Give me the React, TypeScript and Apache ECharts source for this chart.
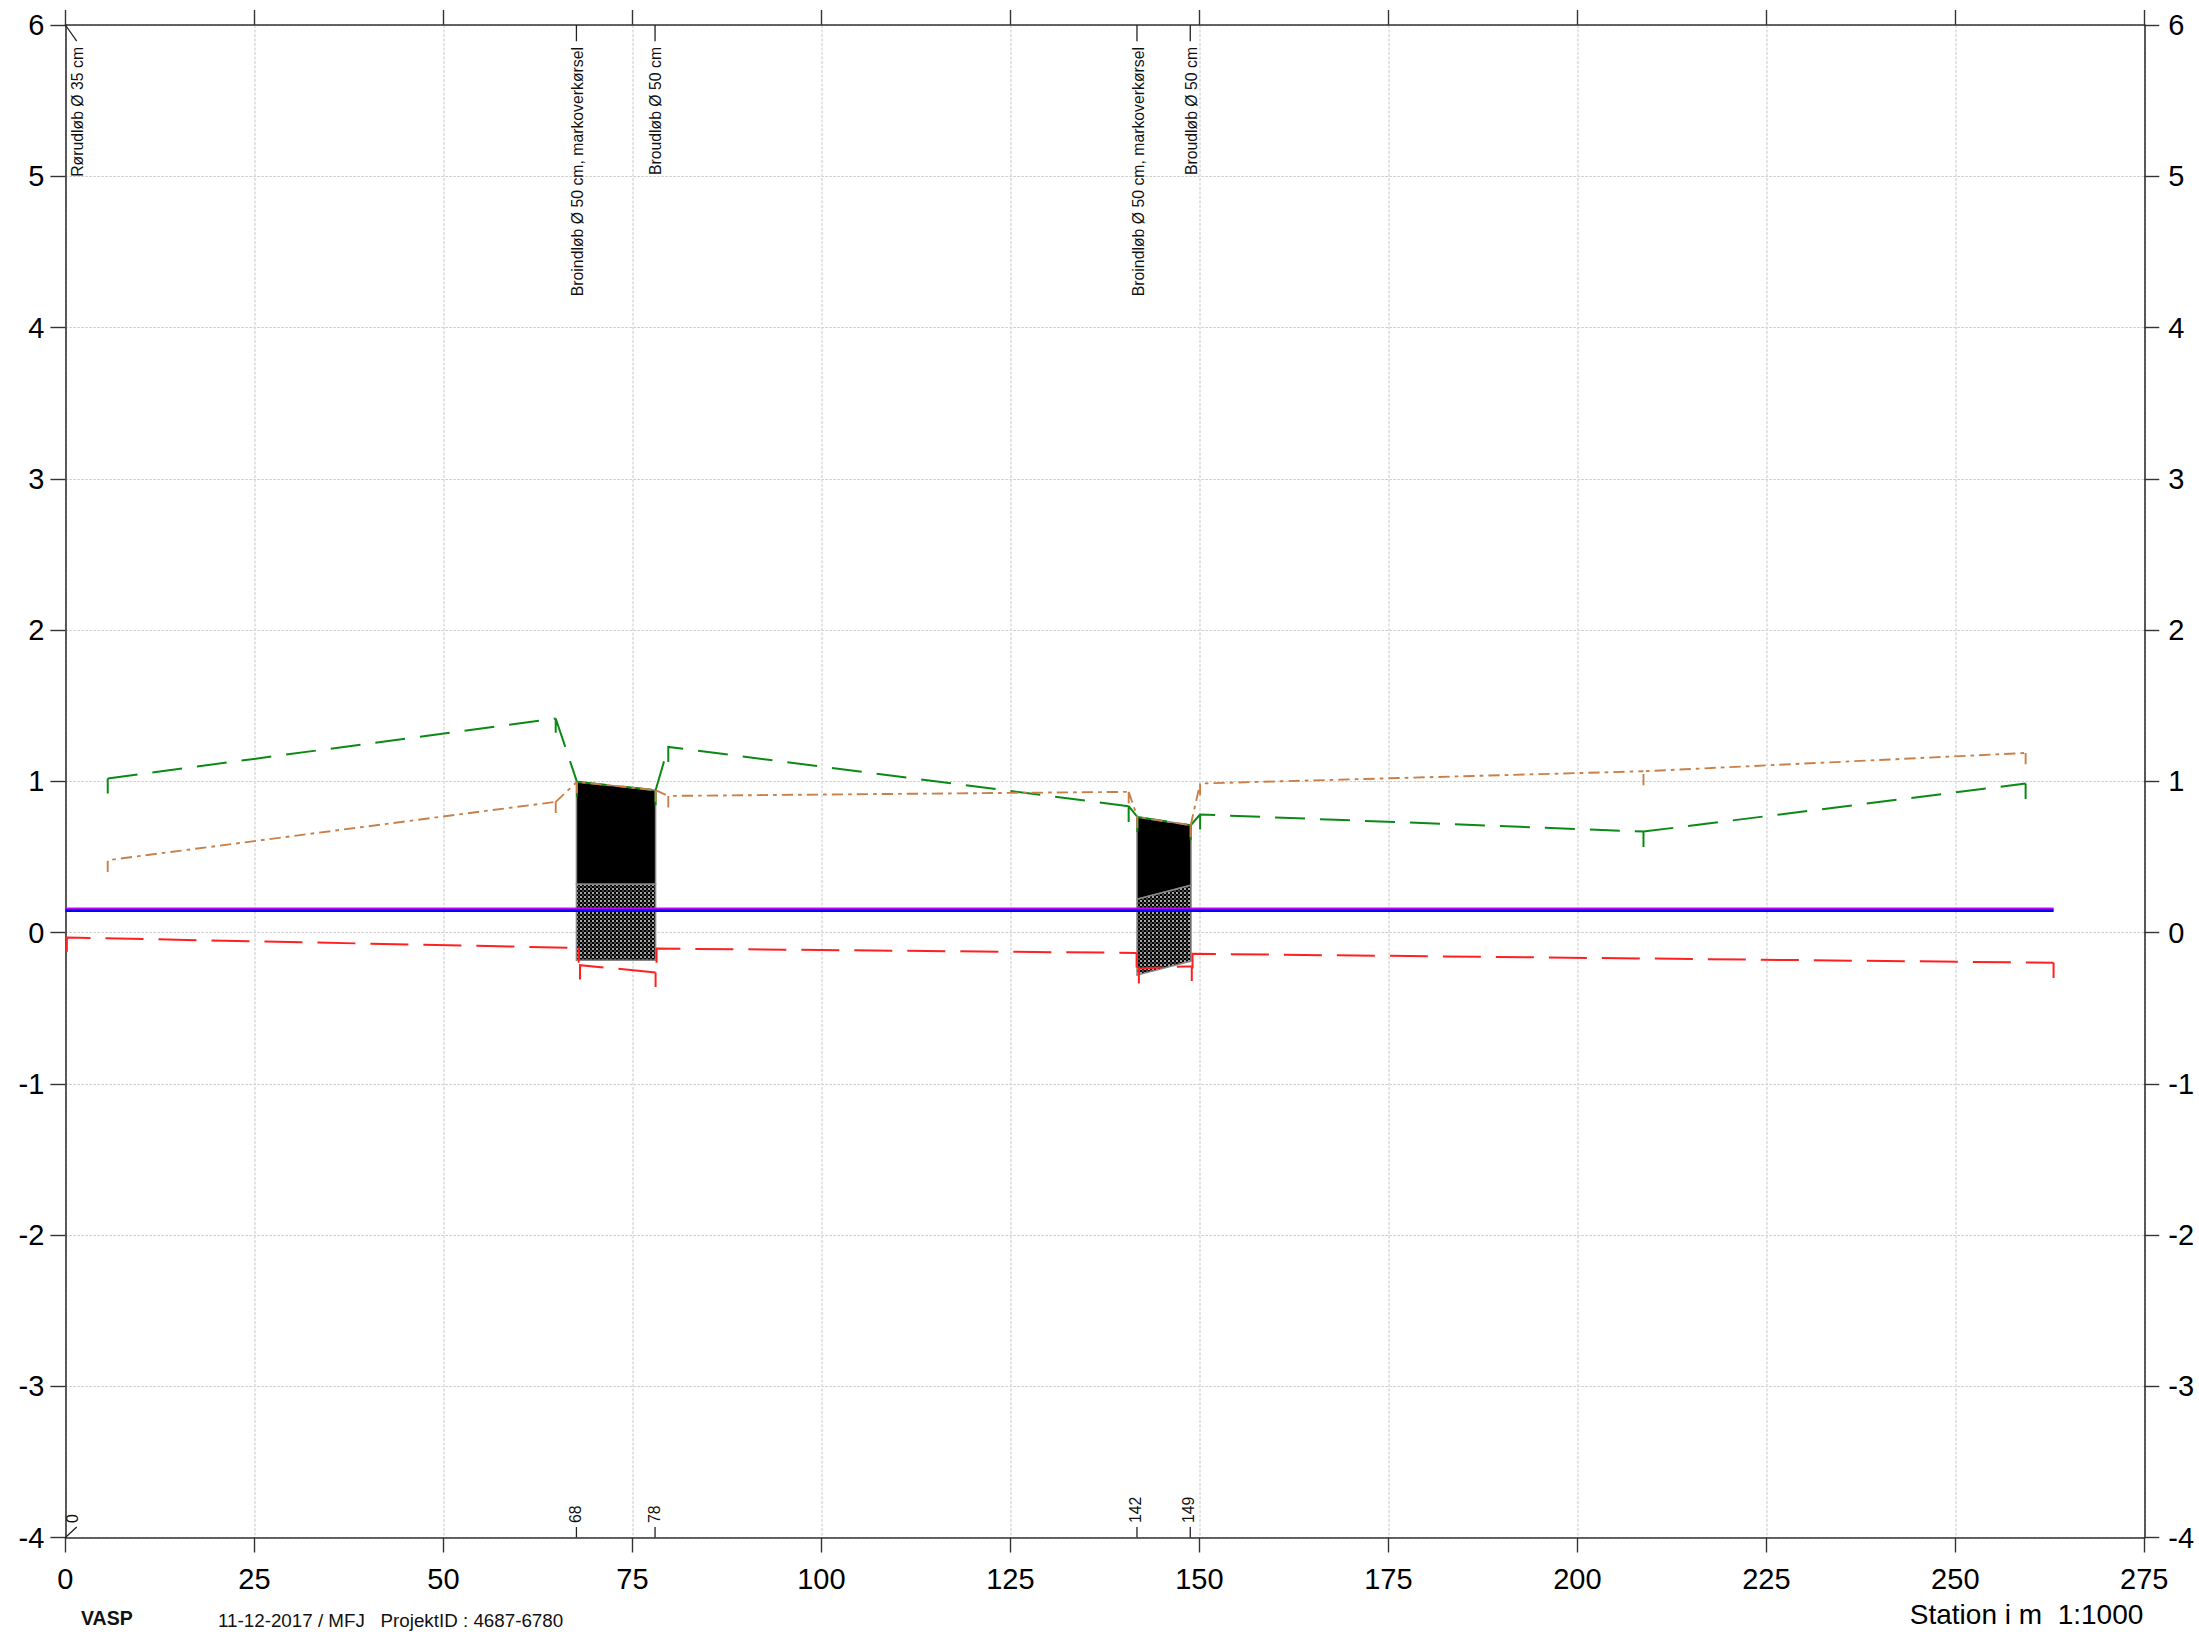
import React, { useEffect, useRef } from "react";
import * as echarts from "echarts";

const FONT = '"Liberation Sans"';
const GAP = [null, null];

const xTicksMin = 0;
const xTicksMax = 275;
const xTickStep = 25;
const yTicksMin = -4;
const yTicksMax = 6;
const yTickStep = 1;

const terrain = [
  [5.6, 0.919], [5.6, 1.018], GAP,
  [5.6, 1.018], [64.86, 1.415], GAP,
  [64.86, 1.32], [64.86, 1.415], GAP,
  [64.86, 1.415], [67.67, 0.996], GAP,
  [67.67, 0.897], [67.67, 0.996], GAP,
  [67.67, 0.996], [78.07, 0.941], GAP,
  [78.07, 0.842], [78.07, 0.941], GAP,
  [78.07, 0.941], [79.75, 1.227], GAP,
  [79.75, 1.128], [79.75, 1.227], [140.65, 0.835], GAP,
  [140.65, 0.731], [140.65, 0.835], GAP,
  [140.65, 0.835], [141.8, 0.764], GAP,
  [141.8, 0.665], [141.8, 0.764], GAP,
  [141.8, 0.764], [148.85, 0.709], GAP,
  [148.85, 0.61], [148.85, 0.709], GAP,
  [148.85, 0.709], [150.1, 0.78], GAP,
  [150.1, 0.681], [150.1, 0.78], [208.75, 0.667], GAP,
  [208.75, 0.565], [208.75, 0.667], GAP,
  [208.75, 0.667], [259.3, 0.985], GAP,
  [259.3, 0.883], [259.3, 0.985],
];

const bank = [
  [5.6, 0.4], [5.6, 0.478], [64.86, 0.864], GAP,
  [64.86, 0.79], [64.86, 0.864], GAP,
  [64.86, 0.864], [67.67, 0.996], GAP,
  [67.67, 0.92], [67.67, 0.996], [78.07, 0.941], GAP,
  [78.07, 0.864], [78.07, 0.941], GAP,
  [78.07, 0.941], [79.75, 0.903], GAP,
  [79.75, 0.827], [79.75, 0.903], [140.65, 0.93], GAP,
  [140.65, 0.853], [140.65, 0.93], GAP,
  [140.65, 0.93], [141.8, 0.764], GAP,
  [141.8, 0.69], [141.8, 0.764], [148.85, 0.709], GAP,
  [148.85, 0.632], [148.85, 0.709], GAP,
  [148.85, 0.709], [150.1, 0.985], GAP,
  [150.1, 0.908], [150.1, 0.985], [208.75, 1.066], GAP,
  [208.75, 0.974], [208.75, 1.066], [259.3, 1.187], GAP,
  [259.3, 1.113], [259.3, 1.187],
];

const bed = [
  [0.19, -0.128], [0.19, -0.033], [67.9, -0.102], GAP,
  [67.9, -0.2], [67.9, -0.102], GAP,
  [68.07, -0.311], [68.07, -0.216], [78.07, -0.264], GAP,
  [78.07, -0.36], [78.07, -0.264], GAP,
  [78.2, -0.2], [78.2, -0.106], [141.7, -0.135], GAP,
  [141.7, -0.232], [141.7, -0.135], GAP,
  [142, -0.337], [142, -0.238], [149, -0.223], GAP,
  [149, -0.32], [149, -0.223], GAP,
  [149.1, -0.238], [149.1, -0.141], [263, -0.2], GAP,
  [263, -0.3], [263, -0.2],
];

const waterLine = [[0, 0.145], [263, 0.145]];
const waterEdge = [[0, 0.156], [263, 0.156]];

const culvertBlack = [
  [[67.6, 0.996], [78.07, 0.941], [78.07, 0.319], [67.6, 0.319]],
  [[141.75, 0.764], [148.9, 0.709], [148.9, 0.313], [141.75, 0.22]],
];
const culvertHatch = [
  [[67.6, 0.319], [78.07, 0.319], [78.07, -0.183], [67.6, -0.183]],
  [[141.75, 0.22], [148.9, 0.313], [148.9, -0.189], [141.75, -0.282]],
];

const topLeaders = [
  [0, 6], [1.5, 5.893], GAP,
  [67.6, 6], [67.6, 5.893], GAP,
  [78, 6], [78, 5.893], GAP,
  [141.75, 6], [141.75, 5.893], GAP,
  [148.8, 6], [148.8, 5.893],
];
const bottomLeaders = [
  [0, -4], [1.5, -3.93], GAP,
  [67.6, -4], [67.6, -3.93], GAP,
  [78, -4], [78, -3.93], GAP,
  [141.75, -4], [141.75, -3.93], GAP,
  [148.8, -4], [148.8, -3.93],
];

const topNotes = ["Rørudløb Ø 35 cm", "Broindløb Ø 50 cm, markoverkørsel", "Broudløb Ø 50 cm", "Broindløb Ø 50 cm, markoverkørsel", "Broudløb Ø 50 cm"];
const topNoteStations = [1.6, 67.8, 78, 141.9, 149];
const topNoteLevel = 5.855;

const bottomNotes = ["0", "68", "78", "142", "149"];
const bottomNoteStations = [0.97, 67.5, 77.9, 141.6, 148.6];
const bottomNoteLevel = -3.904;

function makeHatch() {
  const c = document.createElement("canvas");
  c.width = 4;
  c.height = 4;
  const g = c.getContext("2d")!;
  g.fillStyle = "#000000";
  g.fillRect(0, 0, 4, 4);
  g.fillStyle = "#a8a8a8";
  g.fillRect(0, 0, 2, 2);
  g.fillStyle = "#484848";
  g.fillRect(2, 2, 2, 2);
  return c;
}

function polygonSeries(polys: number[][][], style: any, z: number) {
  return {
    type: "custom",
    coordinateSystem: "cartesian2d",
    xAxisIndex: 0,
    yAxisIndex: 0,
    silent: true,
    z,
    data: polys.map((_, i) => [i]),
    renderItem: (params: any, api: any) => ({
      type: "polygon",
      shape: { points: polys[params.dataIndex].map((p) => api.coord(p)) },
      style,
    }),
  };
}

function noteSeries(labels: string[], stations: number[], level: number, align: string) {
  return {
    type: "custom",
    coordinateSystem: "cartesian2d",
    xAxisIndex: 0,
    yAxisIndex: 0,
    silent: true,
    z: 6,
    clip: false,
    data: labels.map((_, i) => [stations[i], level]),
    renderItem: (params: any, api: any) => {
      const p = api.coord([stations[params.dataIndex], level]);
      return {
        type: "text",
        x: p[0],
        y: p[1],
        rotation: Math.PI / 2,
        style: {
          text: labels[params.dataIndex],
          font: `15.8px ${FONT}`,
          fill: "#111",
          align,
          verticalAlign: "middle",
        },
      };
    },
  };
}

function lineSeries(data: any[], color: string, width: number, type: any, z: number) {
  return {
    type: "line",
    xAxisIndex: 0,
    yAxisIndex: 0,
    data,
    showSymbol: false,
    symbol: "none",
    connectNulls: false,
    silent: true,
    z,
    lineStyle: { color, width, type, cap: "butt", join: "miter" },
  };
}

export default function App() {
  const ref = useRef<HTMLDivElement>(null);
  useEffect(() => {
    const chart = echarts.init(ref.current!, undefined, { renderer: "svg" });
    const gridV = { show: true, lineStyle: { color: "#dcdcdc", width: 1.5, type: [3, 1.5] as any } };
    const gridH = { show: true, lineStyle: { color: "#cccccc", width: 1, type: [2.5, 1.5] as any } };
    const axisLine = { show: true, onZero: false, lineStyle: { color: "#333", width: 1.6 } };
    const axisTick = { show: true, length: 15, lineStyle: { color: "#333", width: 1.4 } };
    const label = { color: "#000", fontFamily: FONT, fontSize: 29 };
    const hatch = { image: makeHatch(), repeat: "repeat", imageWidth: 4, imageHeight: 4 };

    chart.setOption({
      animation: false,
      backgroundColor: "#fff",
      grid: { left: 65.4, right: 54.7, top: 25, height: 1512.5, containLabel: false },
      xAxis: [
        {
          type: "value", position: "bottom", min: xTicksMin, max: xTicksMax, interval: xTickStep,
          axisLine, axisTick, splitLine: gridV,
          axisLabel: { ...label, margin: 27, showMinLabel: true, showMaxLabel: true },
          name: "Station i m  1:1000",
          nameLocation: "end",
          nameGap: -1,
          nameTextStyle: { color: "#000", fontFamily: FONT, fontSize: 28, align: "right", verticalAlign: "top", padding: [63, 0, 0, 0] },
        },
        {
          type: "value", position: "top", min: xTicksMin, max: xTicksMax, interval: xTickStep,
          axisLine, axisTick, splitLine: { show: false }, axisLabel: { show: false },
        },
      ],
      yAxis: [
        {
          type: "value", position: "left", min: yTicksMin, max: yTicksMax, interval: yTickStep,
          axisLine, axisTick, splitLine: gridH,
          axisLabel: { ...label, margin: 21 },
        },
        {
          type: "value", position: "right", min: yTicksMin, max: yTicksMax, interval: yTickStep,
          axisLine, axisTick, splitLine: { show: false },
          axisLabel: { ...label, margin: 24 },
        },
      ],
      graphic: [
        { type: "text", x: 81, y: 1618, style: { text: "VASP", font: `bold 19.5px ${FONT}`, fill: "#111", verticalAlign: "middle" } },
        { type: "text", x: 218, y: 1620, style: { text: "11-12-2017 / MFJ   ProjektID : 4687-6780", font: `18.8px ${FONT}`, fill: "#111", verticalAlign: "middle" } },
      ],
      series: [
        polygonSeries(culvertBlack, { fill: "#000", stroke: "#888", lineWidth: 1.5 }, 3),
        polygonSeries(culvertHatch, { fill: hatch, stroke: "#888", lineWidth: 1.5 }, 3),
        lineSeries(topLeaders, "#222", 1.3, "solid", 4),
        lineSeries(bottomLeaders, "#222", 1.3, "solid", 4),
        lineSeries(waterEdge, "#d000ff", 3, "solid", 5),
        lineSeries(waterLine, "#0000ff", 3, "solid", 5),
        lineSeries(terrain, "#0a8a14", 2, [30, 15], 6),
        lineSeries(bank, "#c8804a", 1.9, [11.3, 5, 3.7, 5], 7),
        lineSeries(bed, "#ff2020", 2, [38, 15], 6),
        noteSeries(topNotes, topNoteStations, topNoteLevel, "right"),
        noteSeries(bottomNotes, bottomNoteStations, bottomNoteLevel, "left"),
      ],
    });
    return () => chart.dispose();
  }, []);
  return <div ref={ref} style={{ position: "fixed", left: 0, top: 0, width: 2199, height: 1632 }} />;
}
